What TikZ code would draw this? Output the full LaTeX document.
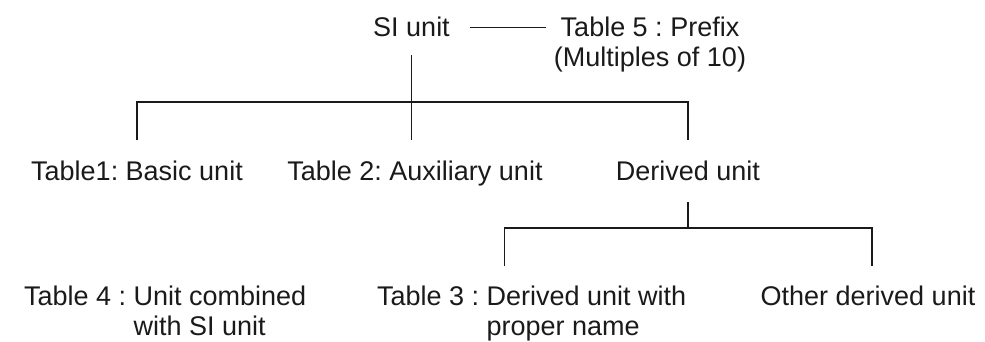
\documentclass[tikz,border=0pt]{standalone}
\usepackage{fontspec}
\setmainfont{Liberation Sans}
\frenchspacing
\usetikzlibrary{positioning, calc}
\definecolor{ink}{HTML}{1A1A1A}
\tikzset{
  lbl/.style  = {font=\fontsize{27}{30}\selectfont, text=ink,
                 inner sep=0pt, outer sep=0pt},
  one/.style  = {lbl, text height=20pt, text depth=6pt},
  hang/.style = {lbl, align=left, anchor=base west},
  link/.style = {line width=1.2pt, ink},
}

\begin{document}
\begin{tikzpicture}[x=1pt, y=-1pt]
  \useasboundingbox (0,0) rectangle (985,342);

  \node[lbl, anchor=base] (si) at (411.5,37) {SI unit};
  % multi-line nodes sit on their last baseline
  \node[lbl, align=center, anchor=base] (pre) at (650,67)
    {Table 5 : Prefix\\(Multiples of 10)};

  \node[one, anchor=base] (basic) at (137,180) {Table1: Basic unit};
  \node[one, anchor=base] (aux)   at (415,180) {Table 2: Auxiliary unit};
  \node[one, anchor=base] (der)   at (688,180) {Derived unit};

  \node[hang] (comb) at (24,335)
    {Table 4 : Unit combined\\\phantom{Table 4 : }with SI unit};
  \node[hang] (prop) at (377,335)
    {Table 3 : Derived unit with\\\phantom{Table 3 : }proper name};
  \node[one, anchor=base] (oth) at (868,305) {Other derived unit};

  % junction levels
  \coordinate (j1) at (0,102);
  \coordinate (j2) at (0,228);
  \coordinate (lft) at ([xshift=-27pt]prop.north);
  \coordinate (rgt) at ([xshift=4pt]oth.north);

  \draw[link, shorten <=20pt, shorten >=8pt] (si.east) -- (si.east -| pre.west);
  \draw[link, shorten <=18pt, shorten >=20pt] (si.south) -- (si.south |- aux.north);
  \draw[link, shorten <=20pt, shorten >=20pt]
    (basic.north) |- (der.north |- j1) -- (der.north);

  \draw[link, shorten <=16pt] (der.south) -- (der.south |- j2);
  \draw[link, shorten <=19pt, shorten >=19pt]
    (lft) |- (rgt |- j2) -- (rgt);

\end{tikzpicture}
\end{document}
